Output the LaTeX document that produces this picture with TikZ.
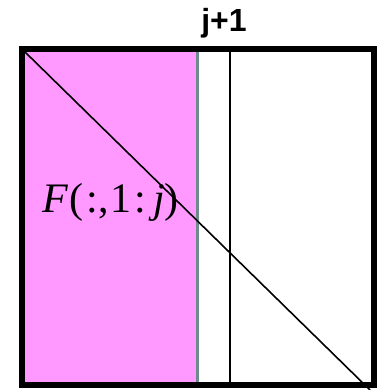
\documentclass[tikz,border=0pt]{standalone}
\usepackage{fontspec}
\setmainfont{Liberation Serif}
\newfontfamily\labelsans{Liberation Sans}
\definecolor{pinkfill}{HTML}{FF99FF}
\definecolor{sepline}{HTML}{6E8A8A}
\begin{document}
\begin{tikzpicture}[x=1pt,y=-1pt,
  frame/.style={draw=black,line width=6pt},
  thinline/.style={draw=black,line width=1.6pt}]
\useasboundingbox (0,0) rectangle (381,390);
% pink region
\fill[pinkfill] (25,52) rectangle (197,382);
% separator lines
\draw[sepline,line width=2.6pt] (197.5,52) -- (197.5,382);
\draw[black,line width=1.8pt] (230,52) -- (230,382);
% diagonal
\coordinate (dstart) at (25,52);
\coordinate (dend) at (370,390);
\draw[thinline] (dstart) -- (dend);
% frame
\draw[frame] (22,49) rectangle (374,385);
% labels
\node[anchor=base west,inner sep=0pt,font=\fontsize{42}{46}\selectfont] (flabel) at (42,212) {\textit{F}\kern1pt(\kern3pt:\kern1pt,\kern1pt1\kern3pt:\kern7pt\textit{j})};
\node[anchor=base,inner sep=0pt,font=\labelsans\bfseries\fontsize{32}{34}\selectfont] (jlabel) at (224,32) {j+1};
\end{tikzpicture}
\end{document}
